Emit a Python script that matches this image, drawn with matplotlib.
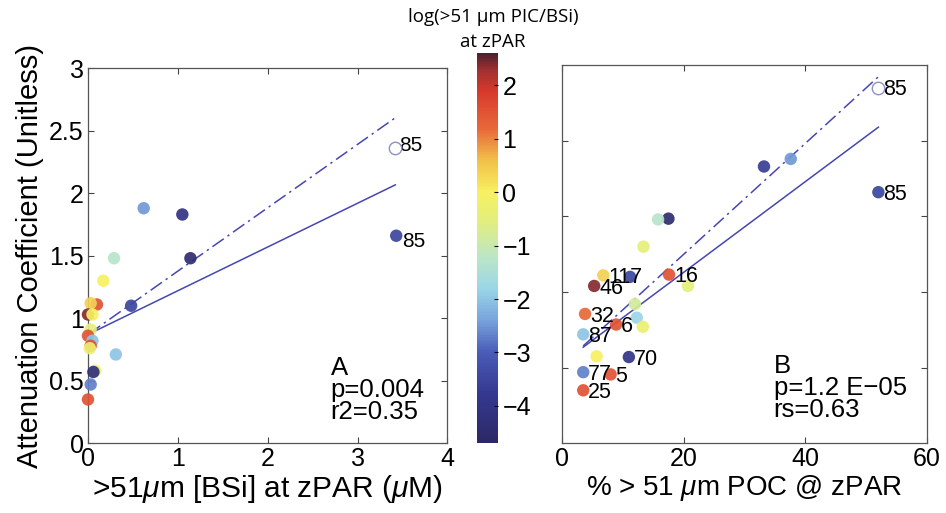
"""Attenuation coefficient vs >51 um BSi and % >51 um POC, coloured by log(PIC/BSi)."""
import matplotlib
matplotlib.use("Agg")
import matplotlib.pyplot as plt
import numpy as np
from matplotlib.colors import LinearSegmentedColormap, Normalize

plt.rcParams["font.family"] = ["Liberation Sans", "DejaVu Sans"]
plt.rcParams["mathtext.fontset"] = "custom"
plt.rcParams["mathtext.it"] = "Liberation Sans:italic"
plt.rcParams["mathtext.rm"] = "Liberation Sans"

# ---------------------------------------------------------------------------
# data

# panel A: BSi (uM) vs attenuation coefficient
bsi_x = [0.62, 1.05, 1.14, 0.29, 0.17, 0.48, 0.31, 3.43,
         0.10, 0.03, 0.00, 0.05, 0.03, 0.00, 0.05, 0.03, 0.02, 0.08, 0.06, 0.03, 0.00]
bsi_y = [1.88, 1.83, 1.48, 1.48, 1.30, 1.10, 0.71, 1.66,
         1.11, 1.12, 1.03, 1.03, 0.91, 0.86, 0.82, 0.78, 0.76, 0.58, 0.57, 0.47, 0.35]
bsi_c = [-2.5, -4.0, -4.5, -1.3, 0.0, -3.5, -2.0, -3.5,
         1.5, 0.4, 2.4, 0.0, -0.5, 1.5, -2.0, 1.5, -0.3, -0.2, -4.2, -2.7, 1.5]
bsi_open = (3.42, 2.36)           # point 85, open symbol

# panel B: % >51 um POC vs attenuation coefficient (scaled axis)
poc_x = [52.0, 33.2, 37.6, 17.5, 15.8, 13.4, 6.8, 11.2, 17.6, 20.7, 5.3,
         12.0, 3.8, 12.3, 8.9, 13.3, 3.5, 5.7, 11.0, 3.5, 8.0, 3.5]
poc_y = [3.32, 3.66, 3.76, 2.97, 2.96, 2.60, 2.22, 2.20, 2.23, 2.08, 2.08,
         1.84, 1.71, 1.66, 1.57, 1.54, 1.44, 1.15, 1.14, 0.94, 0.91, 0.70]
poc_c = [-3.5, -3.7, -2.5, -4.5, -1.3, -0.5, 0.4, -3.5, 1.5, -0.5, 2.4,
         -0.8, 1.2, -1.8, 1.5, -0.3, -2.0, 0.0, -4.0, -2.7, 1.5, 1.5]
poc_lab = ["85", "", "", "", "", "", "117", "", "16", "", "46",
           "", "32", "", "6", "", "87", "", "70", "77", "5", "25"]
poc_open = (51.9, 4.70)

# regression lines: (intercept, slope, x start, x end)
fit_a_all = (0.87, 0.350, 0.01, 3.42)
fit_a_open = (0.87, 0.507, 0.01, 3.42)
fit_b_all = (1.06, 0.060, 3.5, 52.0)
fit_b_open = (1.03, 0.0734, 3.5, 52.0)

cbar_ticks = [-4, -3, -2, -1, 0, 1, 2]
cmin, cmax = -4.7, 2.6

# ---------------------------------------------------------------------------

stops = [(-4.7, "#2c2866"), (-3.8, "#34388f"), (-3.0, "#4a5cb8"), (-2.4, "#78a4dc"),
         (-1.8, "#9ad6e8"), (-1.2, "#bde6c4"), (-0.5, "#e4ef7a"), (0.0, "#f7f062"),
         (0.6, "#f2c04a"), (1.2, "#e8683a"), (1.9, "#d7392c"), (2.3, "#a03030"),
         (2.6, "#4e2030")]
cmap = LinearSegmentedColormap.from_list(
    "fadedjet", [((v - cmin) / (cmax - cmin), c) for v, c in stops])
norm = Normalize(cmin, cmax)

fig = plt.figure(figsize=(9.46, 5.13), dpi=100)
ax_a = fig.add_axes([0.093, 0.136, 0.380, 0.731])
ax_b = fig.add_axes([0.594, 0.136, 0.386, 0.737])
cax = fig.add_axes([0.504, 0.136, 0.022, 0.760])

line_col = "#4646b4"
dashdot = (0, (9, 3, 1.5, 3))


def draw_fit(ax, fit, ls):
    b, m, x0, x1 = fit
    xs = np.array([x0, x1])
    ax.plot(xs, b + m * xs, color=line_col, lw=1.1, ls=ls, zorder=3)


def style(ax):
    ax.tick_params(direction="in", top=True, right=True, length=4, pad=3,
                   labelsize=18, width=0.8, color="#444444")
    for s in ax.spines.values():
        s.set_color("#555555")
        s.set_linewidth(0.9)


# panel A
draw_fit(ax_a, fit_a_all, "-")
draw_fit(ax_a, fit_a_open, dashdot)
ax_a.scatter(bsi_x, bsi_y, c=bsi_c, cmap=cmap, norm=norm, s=80,
             edgecolors="none", alpha=0.92, zorder=4, clip_on=False)
ax_a.scatter(*bsi_open, s=80, facecolors="white", edgecolors="#9090c8",
             lw=1.0, zorder=4)
ax_a.text(bsi_open[0] + 0.04, bsi_open[1] + 0.02, "85", fontsize=15,
          va="center", ha="left")
ax_a.text(bsi_x[7] + 0.07, bsi_y[7] - 0.05, "85", fontsize=15,
          va="center", ha="left")
ax_a.set_xlim(0, 4)
ax_a.set_ylim(0, 3)
ax_a.set_xticks([0, 1, 2, 3, 4])
ax_a.set_yticks([0, 0.5, 1, 1.5, 2, 2.5, 3])
ax_a.set_yticklabels(["0", "0.5", "1", "1.5", "2", "2.5", "3"])
ax_a.text(0.675, 0.05, "A\np=0.004\nr2=0.35", transform=ax_a.transAxes,
          fontsize=18.5, ha="left", va="bottom", linespacing=0.9)
ax_a.set_xlabel(r">51$\mu$m [BSi] at zPAR ($\mu$M)", fontsize=21.5, labelpad=1)
ax_a.set_ylabel("Attenuation Coefficient (Unitless)", fontsize=21, labelpad=4)
style(ax_a)

# panel B
draw_fit(ax_b, fit_b_all, "-")
draw_fit(ax_b, fit_b_open, dashdot)
ax_b.scatter(poc_x, poc_y, c=poc_c, cmap=cmap, norm=norm, s=80,
             edgecolors="none", alpha=0.92, zorder=4)
ax_b.scatter(*poc_open, s=80, facecolors="white", edgecolors="#9090c8",
             lw=1.0, zorder=4)
ax_b.text(poc_open[0] + 0.9, poc_open[1] - 0.02, "85", fontsize=15.5,
          va="center", ha="left")
for x, y, lab in zip(poc_x, poc_y, poc_lab):
    if lab:
        ax_b.text(x + 0.8, y - 0.03, lab, fontsize=15.5, va="center", ha="left",
                  zorder=5)
ax_b.set_xlim(0, 60)
ax_b.set_ylim(0, 5)
ax_b.set_xticks([0, 20, 40, 60])
ax_b.set_yticks([1, 2, 3, 4])
ax_b.set_yticklabels([])
ax_b.text(0.58, 0.055, "B\np=1.2 E\u221205\nrs=0.63", transform=ax_b.transAxes,
          fontsize=18.5, ha="left", va="bottom", linespacing=0.9)
ax_b.set_xlabel(r"% > 51 $\mu$m POC @ zPAR", fontsize=20, labelpad=1)
style(ax_b)

# colour bar
cb = fig.colorbar(plt.cm.ScalarMappable(norm=norm, cmap=cmap), cax=cax)
cb.set_ticks(cbar_ticks)
cb.set_ticklabels([f"{t}".replace("-", "\u2212") for t in cbar_ticks])
cb.ax.tick_params(labelsize=18, length=3, direction="in")
cb.outline.set_visible(False)
fig.text(0.521, 0.967, "log(>51 \u03bcm PIC/BSi)", fontsize=13.5,
         ha="center", va="center", family=["Open Sans", "DejaVu Sans"])
fig.text(0.521, 0.918, "at zPAR", fontsize=13.5, ha="center", va="center",
         family=["Open Sans", "DejaVu Sans"])

fig.savefig("out.png", dpi=100, facecolor="white")
